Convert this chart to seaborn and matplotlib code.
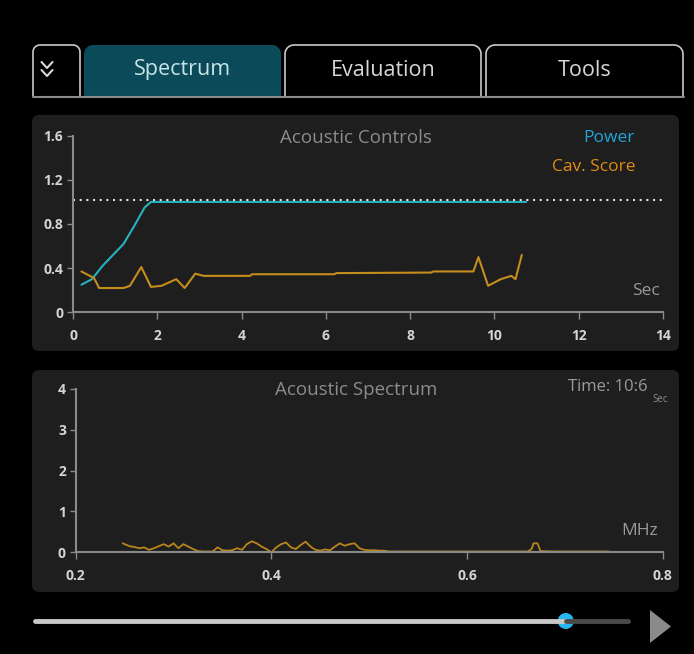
import numpy as np
import pandas as pd
import matplotlib
matplotlib.use("Agg")
import matplotlib.pyplot as plt
from matplotlib.patches import FancyBboxPatch, Polygon, Circle
import seaborn as sns

# ---- data ----
power_sec = [0.2, 0.45, 0.7, 0.95, 1.2, 1.45, 1.7, 1.85, 10.75]
power_val = [0.25, 0.30, 0.42, 0.52, 0.62, 0.78, 0.95, 1.0, 1.0]

cav_sec = [0.2, 0.5, 0.62, 1.2, 1.35, 1.62, 1.85, 2.1, 2.45, 2.65, 2.9, 3.1,
           4.2, 4.25, 6.2, 6.25, 8.5, 8.55, 9.5, 9.62, 9.85, 10.15, 10.4, 10.5, 10.65]
cav_val = [0.37, 0.31, 0.22, 0.22, 0.24, 0.41, 0.23, 0.24, 0.30, 0.22, 0.35, 0.33,
           0.33, 0.345, 0.345, 0.355, 0.36, 0.37, 0.37, 0.50, 0.24, 0.30, 0.33, 0.30, 0.52]

target_level = 1.02

spec_mhz = [0.248, 0.255, 0.26, 0.265, 0.27, 0.275, 0.28, 0.285, 0.29, 0.295,
            0.30, 0.305, 0.31, 0.315, 0.32, 0.325, 0.33, 0.335, 0.34, 0.345,
            0.35, 0.355, 0.36, 0.365, 0.37, 0.375, 0.38, 0.385, 0.39, 0.395,
            0.40, 0.405, 0.41, 0.415, 0.42, 0.425, 0.43, 0.435, 0.44, 0.445,
            0.45, 0.455, 0.46, 0.465, 0.47, 0.475, 0.48, 0.485, 0.49, 0.495,
            0.50, 0.505, 0.51, 0.515, 0.52, 0.55, 0.58, 0.61, 0.64, 0.662,
            0.666, 0.668, 0.672, 0.675, 0.69, 0.72, 0.745]
spec_amp = [0.22, 0.15, 0.13, 0.10, 0.12, 0.06, 0.10, 0.15, 0.20, 0.14,
            0.22, 0.10, 0.20, 0.14, 0.08, 0.03, 0.02, 0.02, 0.02, 0.12,
            0.05, 0.04, 0.05, 0.10, 0.06, 0.20, 0.27, 0.22, 0.14, 0.08,
            0.00, 0.12, 0.20, 0.24, 0.12, 0.08, 0.18, 0.26, 0.14, 0.06,
            0.04, 0.07, 0.05, 0.14, 0.22, 0.16, 0.20, 0.22, 0.10, 0.06,
            0.05, 0.05, 0.04, 0.04, 0.02, 0.02, 0.02, 0.02, 0.02, 0.02,
            0.08, 0.22, 0.22, 0.03, 0.02, 0.02, 0.02]

tab_names = ["Spectrum", "Evaluation", "Tools"]
ctrl_xticks = [0, 2, 4, 6, 8, 10, 12, 14]
ctrl_yticks = [0, 0.4, 0.8, 1.2, 1.6]
ctrl_ylabels = ["0", "0.4", "0.8", "1.2", "1.6"]
spec_xticks = [0.2, 0.4, 0.6, 0.8]
spec_yticks = [0, 1, 2, 3, 4]
slider_pos = 0.895

# ---- style ----
sns.set_theme(style="dark", rc={"figure.facecolor": "#000000"})
plt.rcParams["font.family"] = ["Open Sans", "DejaVu Sans"]

W, H = 694, 654
fig = plt.figure(figsize=(W / 100, H / 100), dpi=100)
fig.patch.set_facecolor("#000000")

# background layer in pixel coordinates
bg = fig.add_axes([0, 0, 1, 1], zorder=0)
bg.set_xlim(0, W)
bg.set_ylim(H, 0)
bg.axis("off")

PANEL = "#1e1e1e"
GRID = "#8a8a8a"
TEXT = "#d4d4d4"
TITLE = "#8c8c8c"

for y0, h in [(115, 236), (370, 222)]:
    bg.add_patch(FancyBboxPatch((32, y0), 647, h, boxstyle="round,pad=0,rounding_size=7",
                                facecolor=PANEL, edgecolor="none"))


def tab_outline(x0, x1, y_top, y_bot, r):
    t = np.linspace(0, np.pi / 2, 12)
    left = np.c_[x0 + r - r * np.cos(t), y_top + r - r * np.sin(t)]
    right = np.c_[x1 - r + r * np.sin(t), y_top + r - r * np.cos(t)]
    return np.vstack([[x0, y_bot], left, right, [x1, y_bot]])


# tabs
chev = tab_outline(33, 80, 45, 96, 7)
bg.plot(chev[:, 0], chev[:, 1], color="#c8c8c8", lw=1.2)
for yy in (62, 70):
    bg.plot([41.5, 47, 52.5], [yy, yy + 6, yy], color="#d8d8d8", lw=1.5)

tab_spans = [(84, 281), (285, 481), (486, 683)]
for (x0, x1), name in zip(tab_spans, tab_names):
    pts = tab_outline(x0, x1, 45, 96, 9)
    if name == "Spectrum":
        bg.add_patch(Polygon(pts, closed=True, facecolor="#0b4a58", edgecolor="none"))
        col = "#c8e4e8"
    else:
        bg.plot(pts[:, 0], pts[:, 1], color="#c8c8c8", lw=1.2)
        col = "#d6d6d6"
    bg.text((x0 + x1) / 2, 70, name, color=col, fontsize=15.5, ha="center", va="center")
bg.plot([33, 684], [97, 97], color="#8a8a8a", lw=1.5)

# panel texts
bg.text(356, 138, "Acoustic Controls", color=TITLE, fontsize=13.5, ha="center", va="center")
bg.text(635, 138, "Power", color="#1fa6d8", fontsize=12.5, ha="right", va="center")
bg.text(636, 167, "Cav. Score", color="#e08c12", fontsize=12.5, ha="right", va="center")
bg.text(660, 291, "Sec", color="#9a9a9a", fontsize=12.5, ha="right", va="center")

bg.text(356, 390, "Acoustic Spectrum", color=TITLE, fontsize=13.5, ha="center", va="center")
bg.text(648, 387, "Time: 10:6", color="#9a9a9a", fontsize=12, ha="right", va="center")
bg.text(652, 399, "Sec", color="#8a8a8a", fontsize=7, ha="left", va="center")
bg.text(658, 531, "MHz", color="#9a9a9a", fontsize=12.5, ha="right", va="center")

# slider
x_start, x_end = 35, 628
knob = x_start + slider_pos * (x_end - x_start)
bg.plot([x_start, knob], [621, 621], color="#c8c8c8", lw=3.5, solid_capstyle="round")
bg.plot([knob, x_end], [621, 621], color="#4a4a4a", lw=3.5, solid_capstyle="round")
bg.add_patch(Circle((knob, 621), 8, facecolor="#27b8ef", edgecolor="none"))
bg.add_patch(Polygon([[650, 610], [650, 643], [671, 626.5]], closed=True,
                     facecolor="#8a8a8a", edgecolor="none"))


def style_axes(ax):
    ax.set_facecolor("none")
    ax.grid(False)
    for side in ("top", "right"):
        ax.spines[side].set_visible(False)
    for side in ("left", "bottom"):
        ax.spines[side].set_color(GRID)
        ax.spines[side].set_linewidth(1.5)
    ax.tick_params(axis="x", direction="out", length=5, width=1, color=GRID,
                   labelcolor=TEXT, labelsize=10, pad=7, bottom=True)
    ax.tick_params(axis="y", direction="out", length=4.5, width=1, color=GRID,
                   labelcolor=TEXT, labelsize=10, pad=2.5, left=True)
    for lab in ax.get_xticklabels() + ax.get_yticklabels():
        lab.set_fontweight("bold")
    ax.set_xlabel("")
    ax.set_ylabel("")


# ---- Acoustic Controls ----
ax1 = fig.add_axes([73 / W, 1 - 312.3 / H, 590 / W, 176.6 / H], zorder=2)
power_df = pd.DataFrame({"Sec": power_sec, "Power": power_val})
cav_df = pd.DataFrame({"Sec": cav_sec, "Cav": cav_val})
sns.lineplot(data=power_df, x="Sec", y="Power", color="#27b2c0", lw=1.5, estimator=None, ax=ax1)
sns.lineplot(data=cav_df, x="Sec", y="Cav", color="#c48d1c", lw=1.5, estimator=None, ax=ax1)
ax1.axhline(target_level, color="#e0e0e0", lw=1.5, ls=(0, (1, 2.2)))
ax1.set_xlim(0, 14)
ax1.set_ylim(0, 1.6)
ax1.set_xticks(ctrl_xticks)
ax1.set_yticks(ctrl_yticks)
ax1.set_yticklabels(ctrl_ylabels)
style_axes(ax1)

# ---- Acoustic Spectrum ----
ax2 = fig.add_axes([75.7 / W, 1 - 552.3 / H, 587 / W, 163.3 / H], zorder=2)
spec_df = pd.DataFrame({"MHz": spec_mhz, "Amp": spec_amp})
sns.lineplot(data=spec_df, x="MHz", y="Amp", color="#b8861c", lw=1.3, estimator=None, ax=ax2)
ax2.set_xlim(0.2, 0.8)
ax2.set_ylim(0, 4)
ax2.set_xticks(spec_xticks)
ax2.set_xticklabels([f"{v:.1f}" for v in spec_xticks])
ax2.set_yticks(spec_yticks)
style_axes(ax2)

fig.savefig("out.png", dpi=100, facecolor=fig.get_facecolor())
